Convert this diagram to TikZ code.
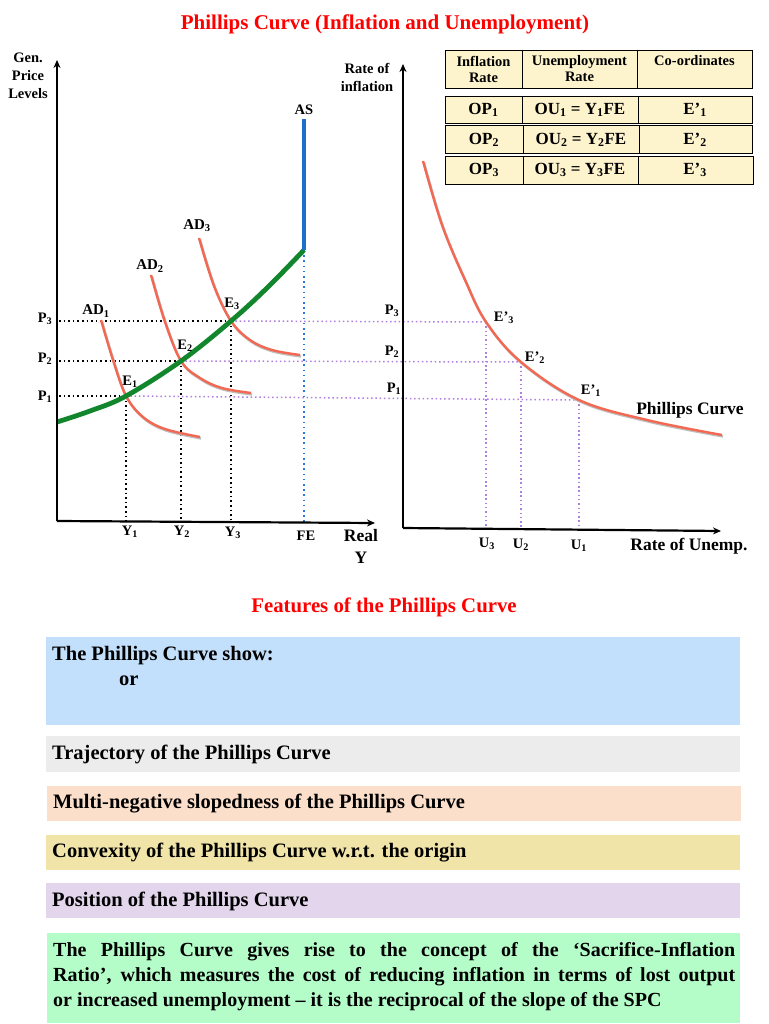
\documentclass[tikz,border=0pt]{standalone}
\usepackage{fontspec}
\setmainfont{Liberation Serif}
\usetikzlibrary{arrows.meta}
\definecolor{titlered}{RGB}{255,0,0}
\definecolor{asgreen}{RGB}{18,134,44}
\definecolor{asblue}{RGB}{30,110,205}
\definecolor{adred}{RGB}{242,104,82}
\definecolor{dotpurple}{RGB}{176,126,222}
\definecolor{dotblue}{RGB}{40,120,225}
\definecolor{tabfill}{RGB}{253,243,205}
\definecolor{boxblue}{RGB}{194,224,251}
\definecolor{boxgrey}{RGB}{236,236,236}
\definecolor{boxpeach}{RGB}{251,223,203}
\definecolor{boxkhaki}{RGB}{241,228,168}
\definecolor{boxlav}{RGB}{226,213,236}
\definecolor{boxgreen}{RGB}{180,252,200}
\newcommand{\sbx}[1]{\textsubscript{#1}}
\begin{document}
\begin{tikzpicture}[x=1pt,y=-1pt,
  lbl/.style={font=\bfseries\fontsize{14.5}{18}\selectfont, inner sep=0pt},
  biglbl/.style={font=\bfseries\fontsize{17.5}{20}\selectfont, inner sep=0pt},
  axisline/.style={line width=2.2pt, -{Stealth[length=8pt,width=7pt]}},
  blackdot/.style={line width=1.6pt, dash pattern=on 1.6pt off 3pt},
  purpledot/.style={dotpurple, line width=1.5pt, dash pattern=on 1.5pt off 2.8pt},
  bluedot/.style={dotblue, line width=1.6pt, dash pattern=on 1.6pt off 3.6pt},
  adcurve/.style={adred, line width=2.4pt},
  shadowc/.style={black!25, line width=2.4pt},
  tabcell/.style={draw=black, line width=0.8pt, fill=tabfill},
  tabhead/.style={font=\bfseries\fontsize{14.5}{16}\selectfont, inner sep=0pt, align=center},
  tabtxt/.style={font=\bfseries\fontsize{17}{19}\selectfont, inner sep=0pt},
  feattxt/.style={font=\bfseries\fontsize{20.5}{24}\selectfont, inner sep=0pt, anchor=west}
]
\useasboundingbox (0,0) rectangle (768,1024);

% titles
\node[font=\bfseries\fontsize{21}{24}\selectfont, text=titlered, inner sep=0pt] (title) at (385,24) {Phillips Curve (Inflation and Unemployment)};
\node[font=\bfseries\fontsize{20.8}{24}\selectfont, text=titlered, inner sep=0pt] (feattitle) at (384,607) {Features of the Phillips Curve};

% ---------- left graph ----------
\coordinate (O1) at (57,521);
\coordinate (Ytop) at (57,60);
\coordinate (Xend) at (375,523);
\coordinate (E1) at (126,396);
\coordinate (E2) at (181,361);
\coordinate (E3) at (231,321);
\coordinate (ASb) at (304,250);
\coordinate (ASt) at (304,119);
\coordinate (P1a) at (59,396);
\coordinate (P2a) at (59,361);
\coordinate (P3a) at (59,321);
\coordinate (Y1b) at (126,520.6);
\coordinate (Y2b) at (181,521.2);
\coordinate (Y3b) at (231,521.6);
\coordinate (FEb) at (304,522.3);

% dotted guides
\draw[blackdot] (P1a) -- (E1);
\draw[blackdot] (P2a) -- (E2);
\draw[blackdot] (P3a) -- (E3);
\draw[blackdot] (E1) -- (Y1b);
\draw[blackdot] (E2) -- (Y2b);
\draw[blackdot] (E3) -- (Y3b);
\draw[bluedot] (ASb) -- (FEb);

% ---------- right graph ----------
\coordinate (O2) at (403,528);
\coordinate (Itop) at (403,64);
\coordinate (Uend) at (721,531);
\coordinate (F1) at (579,400);
\coordinate (F2) at (521,362);
\coordinate (F3) at (486,322);
\coordinate (U1b) at (579,529.7);
\coordinate (U2b) at (521,529.1);
\coordinate (U3b) at (486,528.8);

\draw[purpledot] (E1) -- (F1);
\draw[purpledot] (E2) -- (F2);
\draw[purpledot] (E3) -- (F3);
\draw[purpledot] (F1) -- (U1b);
\draw[purpledot] (F2) -- (U2b);
\draw[purpledot] (F3) -- (U3b);

% AD curves (with faint shadow)
\draw[shadowc, xshift=1pt, yshift=-1.5pt] plot[smooth, tension=0.6] coordinates {(101,320) (113,360) (126,396) (143,417) (165,429) (200,437)};
\draw[shadowc, xshift=1pt, yshift=-1.5pt] plot[smooth, tension=0.6] coordinates {(151,275) (165,322) (181,361) (200,378) (222,388) (251,393)};
\draw[shadowc, xshift=1pt, yshift=-1.5pt] plot[smooth, tension=0.6] coordinates {(199,238) (214,286) (231,321) (250,340) (272,350) (300,355)};
\draw[adcurve] plot[smooth, tension=0.6] coordinates {(101,320) (113,360) (126,396) (143,417) (165,429) (200,437)};
\draw[adcurve] plot[smooth, tension=0.6] coordinates {(151,275) (165,322) (181,361) (200,378) (222,388) (251,393)};
\draw[adcurve] plot[smooth, tension=0.6] coordinates {(199,238) (214,286) (231,321) (250,340) (272,350) (300,355)};

% AS curve
\draw[asgreen, line width=4.8pt] plot[smooth, tension=0.6] coordinates {(57,422) (90,411) (126,396) (181,361) (231,321) (268,287) (304,250)};
\draw[asblue, line width=4.5pt] (ASb) -- (ASt);

% Phillips curve
\draw[shadowc, xshift=1pt, yshift=-1.5pt] plot[smooth, tension=0.6] coordinates {(423,161) (442,225) (465,280) (486,322) (521,362) (579,400) (647,420) (722,435)};
\draw[adcurve] plot[smooth, tension=0.6] coordinates {(423,161) (442,225) (465,280) (486,322) (521,362) (579,400) (647,420) (722,435)};

% axes
\draw[axisline] (O1) -- (Ytop);
\draw[axisline] (O1) -- (Xend);
\draw[axisline] (O2) -- (Itop);
\draw[axisline] (O2) -- (Uend);

% left labels
\node[lbl, align=center] (ylab) at (28,76) {Gen.\\Price\\Levels};
\node[lbl] (aslab) at (304,110) {AS};
\node[lbl, font=\bfseries\fontsize{15}{16}\selectfont] (ad1) at (96,311) {AD\sbx{1}};
\node[lbl, font=\bfseries\fontsize{15}{16}\selectfont] (ad2) at (150,266) {AD\sbx{2}};
\node[lbl, font=\bfseries\fontsize{15}{16}\selectfont] (ad3) at (197,226) {AD\sbx{3}};
\node[lbl] (e1) at (130,382) {E\sbx{1}};
\node[lbl] (e2) at (185,346) {E\sbx{2}};
\node[lbl] (e3) at (232,304) {E\sbx{3}};
\node[lbl] (p3) at (45,319) {P\sbx{3}};
\node[lbl] (p2) at (45,359) {P\sbx{2}};
\node[lbl] (p1) at (45,397) {P\sbx{1}};
\node[lbl] (y1) at (130,532) {Y\sbx{1}};
\node[lbl] (y2) at (182,532) {Y\sbx{2}};
\node[lbl] (y3) at (233,533) {Y\sbx{3}};
\node[lbl] (fe) at (306,536) {FE};
\node[biglbl, align=center, font=\bfseries\fontsize{17.5}{22}\selectfont] (xlab) at (361,546) {Real\\Y};

% right labels
\node[lbl, align=center] (ilab) at (367,77) {Rate of\\inflation};
\node[lbl] (rp3) at (392,311) {P\sbx{3}};
\node[lbl] (rp2) at (392,352) {P\sbx{2}};
\node[lbl] (rp1) at (394,389) {P\sbx{1}};
\node[lbl] (f3) at (504,318) {E'\sbx{3}};
\node[lbl] (f2) at (535,358) {E’\sbx{2}};
\node[lbl] (f1) at (591,391) {E’\sbx{1}};
\node[biglbl] (pclab) at (690,410) {Phillips Curve};
\node[lbl] (u3) at (487,544) {U\sbx{3}};
\node[lbl] (u2) at (521,545) {U\sbx{2}};
\node[lbl] (u1) at (579,546) {U\sbx{1}};
\node[biglbl] (ulab) at (689,546) {Rate of Unemp.};

% table
\draw[tabcell] (445,50) rectangle (522,88);
\draw[tabcell] (522,50) rectangle (637,88);
\draw[tabcell] (637,50) rectangle (752,88);
\node[tabhead] (th1) at (483.5,69) {Inflation\\Rate};
\node[tabhead] (th2) at (579.5,69) {Unemployment\\Rate};
\node[tabhead] (th3) at (694.5,61) {Co-ordinates};

\draw[tabcell] (445,96) rectangle (522,123);
\draw[tabcell] (522,96) rectangle (638,123);
\draw[tabcell] (638,96) rectangle (752,123);
\draw[tabcell] (445,125) rectangle (523,153);
\draw[tabcell] (523,125) rectangle (639,153);
\draw[tabcell] (639,125) rectangle (752,153);
\draw[tabcell] (445,156) rectangle (523,184);
\draw[tabcell] (523,156) rectangle (638,184);
\draw[tabcell] (638,156) rectangle (753,184);
\node[tabtxt] (r1a) at (483.5,110) {OP\sbx{1}};
\node[tabtxt] (r1b) at (580,110) {OU\sbx{1} = Y\sbx{1}FE};
\node[tabtxt] (r1c) at (695,110) {E’\sbx{1}};
\node[tabtxt] (r2a) at (484,140) {OP\sbx{2}};
\node[tabtxt] (r2b) at (581,140) {OU\sbx{2} = Y\sbx{2}FE};
\node[tabtxt] (r2c) at (695,140) {E’\sbx{2}};
\node[tabtxt] (r3a) at (484,170) {OP\sbx{3}};
\node[tabtxt] (r3b) at (580,170) {OU\sbx{3} = Y\sbx{3}FE};
\node[tabtxt] (r3c) at (695,170) {E’\sbx{3}};

% feature boxes
\fill[boxblue] (46,637) rectangle (740,725);
\node[feattxt] (b1a) at (52,656) {The Phillips Curve show:};
\node[feattxt] (b1b) at (119,681) {or};
\fill[boxgrey] (46,736) rectangle (740,772);
\node[feattxt] (b2) at (52,754) {Trajectory of the Phillips Curve};
\fill[boxpeach] (47,786) rectangle (741,821);
\node[feattxt] (b3) at (53,804) {Multi-negative slopedness of the Phillips Curve};
\fill[boxkhaki] (46,835) rectangle (740,870);
\node[feattxt] (b4) at (52,853) {Convexity of the Phillips Curve w.r.t. the origin};
\fill[boxlav] (46,883) rectangle (740,918);
\node[feattxt] (b5) at (52,901) {Position of the Phillips Curve};
\fill[boxgreen] (47,933) rectangle (740,1023);
\node[font=\bfseries\fontsize{20}{25}\selectfont, inner sep=0pt, anchor=north west, text width=682pt, align=justify] (b6) at (53,942) {The Phillips Curve gives rise to the concept of the ‘Sacrifice-Inflation\linebreak Ratio’, which measures the cost of reducing inflation in terms of lost output\linebreak or increased unemployment – it is the reciprocal of the slope of the SPC};
\end{tikzpicture}
\end{document}
